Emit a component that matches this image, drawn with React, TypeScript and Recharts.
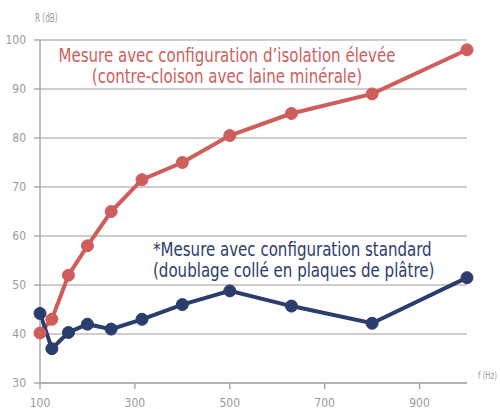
import { CartesianGrid, Line, LineChart, XAxis, YAxis } from "recharts";

const freqs = [100, 125, 160, 200, 250, 315, 400, 500, 630, 800, 1000];
const eleveeValues = [40.2, 43, 52, 58, 65, 71.5, 75, 80.5, 85, 89, 98];
const standardValues = [44.2, 37, 40.3, 42, 41, 43, 46, 48.8, 45.7, 42.2, 51.5];
const xTicks = [100, 300, 500, 700, 900];
const yTicks = [30, 40, 50, 60, 70, 80, 90, 100];

const data = freqs.map((f, i) => ({
  f,
  elevee: eleveeValues[i],
  standard: standardValues[i],
}));

const RED = "#cf5d5b";
const BLUE = "#2b3d6c";
const GREY = "#9a9a9a";
const FONT = "'Liberation Sans Narrow', 'DejaVu Sans Condensed', 'Roboto Condensed', Roboto, sans-serif";

export default function App() {
  const tick = { fontSize: 12, fill: GREY, fontFamily: FONT };
  return (
    <div
      style={{
        position: "absolute",
        left: 0,
        top: 0,
        width: 500,
        height: 409,
        background: "#fff",
        fontFamily: FONT,
      }}
    >
      <LineChart width={500} height={409} data={data} margin={{ top: 40, right: 33, left: 0, bottom: 0 }}>
        <CartesianGrid vertical={false} stroke="#bdbdbd" strokeWidth={1.5} />
        <XAxis
          dataKey="f"
          type="number"
          domain={[100, 1000]}
          ticks={xTicks}
          height={26}
          tick={tick}
          tickSize={6}
          tickMargin={9}
          stroke="#aaa"
          strokeWidth={1.5}
        />
        <YAxis
          type="number"
          domain={[30, 100]}
          ticks={yTicks}
          width={40}
          tick={tick}
          tickSize={6}
          tickMargin={8}
          stroke="#aaa"
          strokeWidth={1.5}
        />
        <Line
          dataKey="elevee"
          stroke={RED}
          strokeWidth={4}
          dot={{ r: 6, fill: RED, stroke: RED, strokeWidth: 1 }}
          isAnimationActive={false}
        />
        <Line
          dataKey="standard"
          stroke={BLUE}
          strokeWidth={4}
          dot={{ r: 6, fill: BLUE, stroke: BLUE, strokeWidth: 1 }}
          isAnimationActive={false}
        />
      </LineChart>
      <div
        style={{
          position: "absolute",
          left: 35,
          top: 10,
          fontSize: 13,
          color: GREY,
          whiteSpace: "nowrap",
          transform: "scaleX(0.62)",
          transformOrigin: "left",
        }}
      >
        R (dB)
      </div>
      <div
        style={{
          position: "absolute",
          left: 478,
          top: 369,
          fontSize: 11,
          color: GREY,
          whiteSpace: "nowrap",
          transform: "scaleX(0.7)",
          transformOrigin: "left",
        }}
      >
        f (Hz)
      </div>
      <div
        style={{
          position: "absolute",
          left: 27,
          width: 400,
          top: 45,
          textAlign: "center",
          fontSize: 19,
          lineHeight: "21px",
          color: RED,
          whiteSpace: "nowrap",
          transform: "scaleX(0.88)",
          transformOrigin: "center",
        }}
      >
        Mesure avec configuration d’isolation élevée
        <br />
        (contre-cloison avec laine minérale)
      </div>
      <div
        style={{
          position: "absolute",
          left: 153,
          top: 239,
          fontSize: 19,
          lineHeight: "21px",
          color: BLUE,
          whiteSpace: "nowrap",
          transform: "scaleX(0.88)",
          transformOrigin: "left",
        }}
      >
        *Mesure avec configuration standard
        <br />
        (doublage collé en plaques de plâtre)
      </div>
    </div>
  );
}
